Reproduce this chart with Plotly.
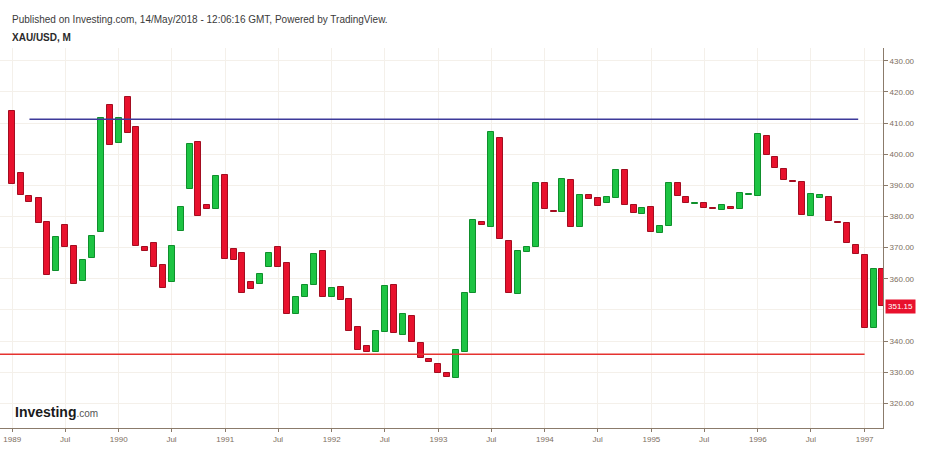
import pandas as pd
import plotly.graph_objects as go

# ---- data (monthly XAU/USD, Jan 1989 - Mar 1997) ----
start_month = "1989-01-01"
opens = [
    414.0, 394.0, 386.6, 386.1, 378.3, 362.5, 377.3, 370.5, 359.3, 366.6, 374.9, 415.8,  # 1989
    403.7, 418.3, 408.6, 370.3, 371.4, 364.4, 358.9, 375.4, 388.8, 403.9, 383.7, 382.3,  # 1990
    393.4, 369.6, 368.2, 358.9, 358.2, 363.9, 370.3, 365.2, 348.7, 354.2, 357.9, 368.8,  # 1991
    354.2, 357.4, 353.4, 344.6, 338.4, 336.6, 343.0, 358.0, 342.0, 348.1, 339.3, 334.1,  # 1992
    332.6, 329.8, 328.2, 336.4, 355.6, 378.3, 376.7, 405.3, 372.1, 355.0, 368.5, 370.3,  # 1993
    390.6, 381.7, 381.3, 391.7, 376.5, 386.9, 386.0, 384.2, 385.8, 394.9, 383.7, 380.7,  # 1994
    383.1, 374.8, 376.9, 390.8, 386.3, 384.0, 384.4, 382.6, 382.1, 383.1, 382.3, 387.0,  # 1995
    386.7, 405.9, 399.2, 395.1, 391.5, 391.0, 380.1, 386.1, 386.3, 378.1, 377.8, 370.8,  # 1996
    367.8, 344.3, 363.3,                                                                  # 1997
]
closes = [
    390.3, 386.9, 384.6, 377.8, 361.2, 373.5, 370.1, 358.2, 366.0, 373.8, 411.5, 402.9,  # 1989
    411.5, 406.7, 370.5, 368.9, 363.9, 356.9, 370.6, 382.9, 403.3, 380.2, 382.3, 393.0,  # 1990
    366.3, 366.1, 355.6, 356.6, 361.4, 368.2, 363.9, 348.7, 354.0, 358.0, 368.0, 354.2,  # 1991
    357.1, 353.2, 343.4, 337.1, 336.6, 343.2, 357.8, 342.5, 348.7, 339.7, 334.6, 333.2,  # 1992
    329.8, 328.4, 337.1, 355.6, 378.9, 377.3, 407.0, 372.7, 355.5, 368.9, 370.3, 390.8,  # 1993
    382.4, 381.3, 391.9, 376.7, 386.9, 385.6, 383.4, 386.3, 394.9, 383.7, 381.0, 382.8,  # 1994
    374.9, 376.9, 390.8, 386.7, 384.2, 384.4, 382.6, 382.3, 383.7, 382.4, 387.4, 387.3,  # 1995
    406.4, 399.9, 395.5, 391.7, 391.0, 380.5, 387.1, 386.9, 378.5, 377.8, 371.4, 368.0,  # 1996
    344.3, 363.1, 351.15,                                                                 # 1997
]
dates = pd.date_range(start_month, periods=len(opens), freq="MS")

resistance_level = 411.2
resistance_span = ["1989-03-01", "1996-12-10"]
support_level = 335.8
support_span = ["1988-11-01", "1997-01-01"]

tick_dates = pd.date_range("1989-01-01", "1997-01-01", freq="6MS")
tick_text = [str(d.year) if d.month == 1 else "Jul" for d in tick_dates]
y_ticks = [430, 420, 410, 400, 390, 380, 370, 360, 340, 330, 320]  # 350 hidden under price tag
y_hidden_grid = [350]
last_price = closes[-1]

# ---- figure ----
UP_FILL, UP_LINE = "#1dc443", "#0f8f2c"
DN_FILL, DN_LINE = "#e8112d", "#a30d20"
BAR_MS = 20.5 * 86400000

up_x, up_h, up_b = [], [], []
dn_x, dn_h, dn_b = [], [], []
for d, o, c in zip(dates, opens, closes):
    lo, hi = min(o, c), max(o, c)
    h = max(hi - lo, 0.35)
    if c >= o:
        up_x.append(d); up_h.append(h); up_b.append(lo)
    else:
        dn_x.append(d); dn_h.append(h); dn_b.append(lo)

fig = go.Figure()
fig.add_trace(go.Bar(x=up_x, y=up_h, base=up_b, width=BAR_MS,
                     marker=dict(color=UP_FILL, line=dict(color=UP_LINE, width=1)),
                     hoverinfo="skip", showlegend=False))
fig.add_trace(go.Bar(x=dn_x, y=dn_h, base=dn_b, width=BAR_MS,
                     marker=dict(color=DN_FILL, line=dict(color=DN_LINE, width=1)),
                     hoverinfo="skip", showlegend=False))

fig.add_shape(type="line", xref="x", yref="y",
              x0=resistance_span[0], x1=resistance_span[1],
              y0=resistance_level, y1=resistance_level,
              line=dict(color="#3d3a9a", width=1.5))
fig.add_shape(type="line", xref="x", yref="y",
              x0=support_span[0], x1=support_span[1],
              y0=support_level, y1=support_level,
              line=dict(color="#e5322f", width=1.5))

AX = "#8b7b6b"
LBL = "#7d6e60"
GRID = "#f4f0ea"

fig.update_layout(
    width=934, height=461,
    margin=dict(l=0, r=51, t=48, b=33),
    paper_bgcolor="white", plot_bgcolor="white",
    barmode="overlay", bargap=0,
    font=dict(family="Liberation Sans, Arial, sans-serif", size=8, color=LBL),
    xaxis=dict(
        type="date",
        range=["1988-11-20", "1997-03-05"],
        tickvals=tick_dates, ticktext=tick_text,
        showgrid=True, gridcolor=GRID, gridwidth=1,
        showline=True, linecolor=AX, linewidth=1,
        ticks="outside", ticklen=3, tickcolor=AX,
        tickfont=dict(size=8, color=LBL),
        zeroline=False,
    ),
    yaxis=dict(
        side="right",
        range=[312.1, 434.1],
        tickvals=y_ticks, tickformat=".2f",
        showgrid=True, gridcolor=GRID, gridwidth=1,
        minor=dict(tickvals=y_hidden_grid, showgrid=True, gridcolor=GRID, ticks=""),
        showline=True, linecolor=AX, linewidth=1,
        ticks="outside", ticklen=4, tickcolor=AX,
        tickfont=dict(size=8, color=LBL),
        zeroline=False,
    ),
)

fig.add_annotation(xref="paper", yref="paper", x=0, y=1,
                   xshift=10, yshift=29, xanchor="left", yanchor="middle",
                   text="Published on Investing.com, 14/May/2018 - 12:06:16 GMT, Powered by TradingView.",
                   showarrow=False, font=dict(size=10, color="#3a3a3a"))
fig.add_annotation(xref="paper", yref="paper", x=0, y=1,
                   xshift=10, yshift=11, xanchor="left", yanchor="middle",
                   text="<b>XAU/USD, M</b>",
                   showarrow=False, font=dict(size=10, color="#2a2a2a"))
fig.add_annotation(xref="paper", yref="paper", x=0, y=0,
                   xshift=13, yshift=16, xanchor="left", yanchor="middle",
                   text="<b>Investing</b><span style='font-size:10px;color:#555'>.com</span>",
                   showarrow=False, font=dict(size=14, color="#1a1a1a"))
fig.add_annotation(xref="paper", yref="y", x=1, y=last_price,
                   xshift=2, xanchor="left", yanchor="middle",
                   text=f"{last_price:.2f}", showarrow=False,
                   bgcolor="#e8112d", borderpad=2,
                   font=dict(size=8, color="white"))

fig.write_html("out.html")
